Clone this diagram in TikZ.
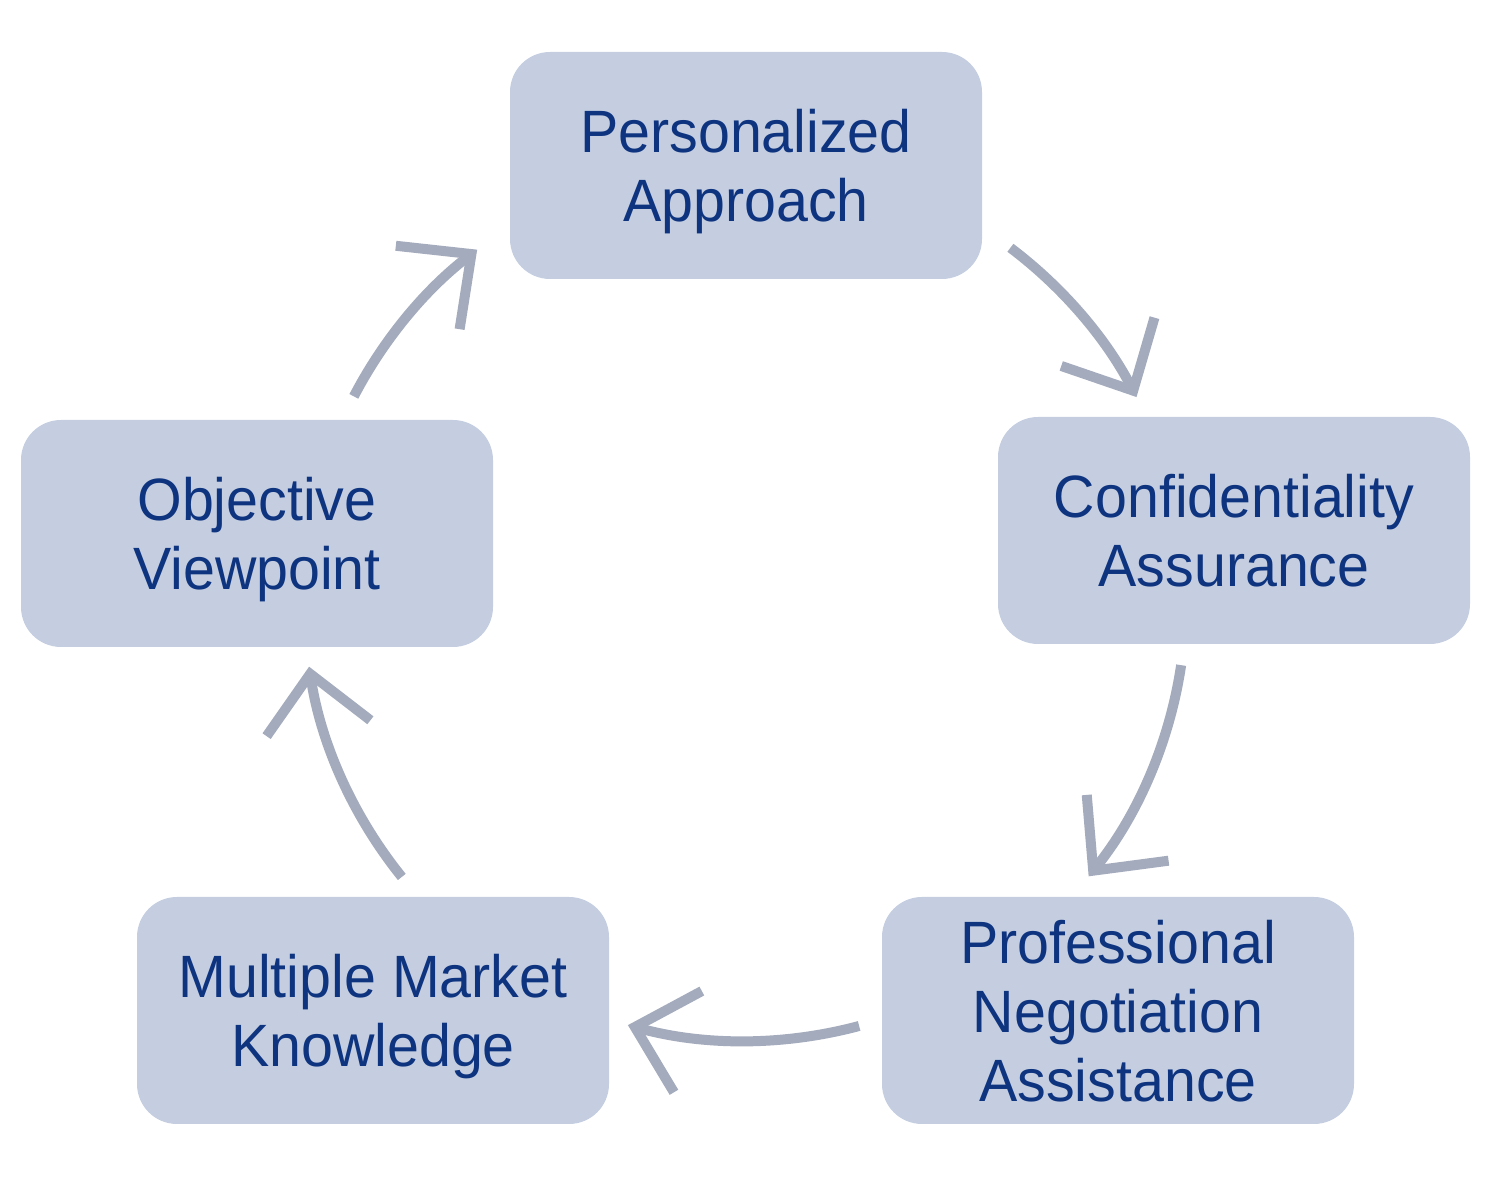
\documentclass[tikz,border=0pt]{standalone}
\usepackage{fontspec}
\setmainfont{Liberation Sans}[FakeStretch=0.96]
\usepackage{xcolor}
\usetikzlibrary{arrows.meta}

\definecolor{stagefill}{RGB}{197,206,225}
\definecolor{stagetext}{RGB}{14,52,128}
\definecolor{ringline}{RGB}{163,171,188}

\begin{document}
\begin{tikzpicture}
	%\draw[help lines] (0,0) grid (15,12);
	\tikzset{
		Stage/.style = {
			fill 			= stagefill,
			rounded corners = 0.4cm,
			minimum width 	= 4.72cm,
			minimum height 	= 2.27cm,
			inner sep 		= 0pt,
			text depth 		= 0pt,
			align 			= center,
			text 			= stagetext,
			font 			= \fontsize{17}{19.6}\selectfont},
		Cycle/.style = {
			draw 		= ringline,
			line width 	= 0.1cm,
			-{Straight Barb[length=5.5mm,width=10.5mm]}}
	}
	\useasboundingbox (0,0) rectangle (15,11.8);
	\coordinate (hub) at (7.45,5.80);
	
	\node[Stage] (pa) at (7.46,10.145) {Personalized\\Approach};
	\node[Stage] (ca) at (12.34,6.495) {Confidentiality\\Assurance};
	\node[Stage] (pn) at (11.18,1.695) {Professional\\Negotiation\\Assistance};
	\node[Stage] (mm) at (3.73,1.695) {Multiple Market\\Knowledge};
	\node[Stage] (ov) at (2.57,6.465) {Objective\\Viewpoint};
	\foreach \a/\b in {53/27.4,-8.5/-38.8,-75/-105.4,218.9/188.7,152.5/127.4}
		{\draw[Cycle] ([shift={(\a:4.41)}]hub) arc[start angle=\a, end angle=\b, radius=4.41];}
\end{tikzpicture}
\end{document}
